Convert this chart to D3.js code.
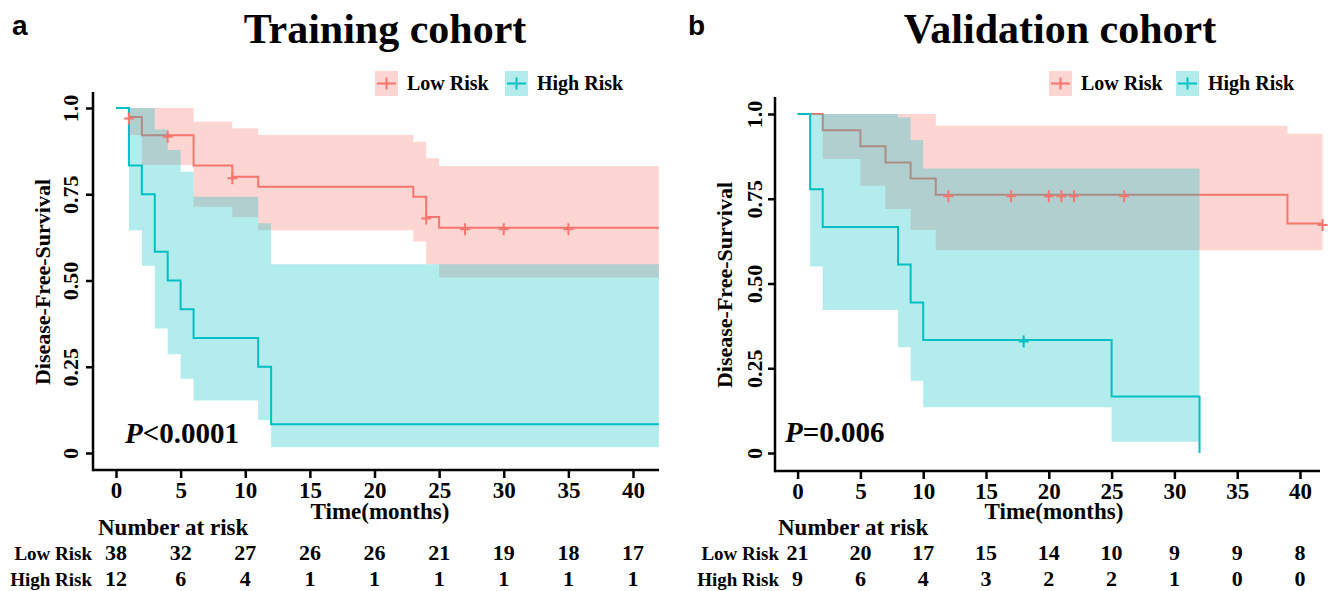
<!DOCTYPE html>
<html>
<head>
<meta charset="utf-8">
<script src="https://cdn.jsdelivr.net/npm/d3@7"></script>
<style>
  body { margin: 0; background: #fff; }
  text { font-family: "Liberation Serif", "Times New Roman", serif; font-weight: bold; fill: #000; }
</style>
</head>
<body>
<div id="chart"></div>
<script>
// ---- data ----
const xTicks = [0, 5, 10, 15, 20, 25, 30, 35, 40];
const yTicks = [0, 0.25, 0.5, 0.75, 1];
const yTickLabels = ["0", "0.25", "0.50", "0.75", "1.0"];
const groups = ["Low Risk", "High Risk"];

// training cohort
const trainLowTime  = [0, 1, 2, 6, 9, 11, 23, 24, 25];
const trainLowSurv  = [1, 0.974, 0.921, 0.833, 0.801, 0.772, 0.743, 0.684, 0.653];
const trainLowUpper = [1, 1, 1, 0.960, 0.941, 0.922, 0.902, 0.854, 0.832];
const trainLowLower = [1, 0.922, 0.835, 0.714, 0.683, 0.646, 0.613, 0.547, 0.509];
const trainLowCensor = [1, 4, 9, 24, 27, 30, 35];
const trainLowEnd = 42;

const trainHighTime  = [0, 1, 2, 3, 4, 5, 6, 11, 12];
const trainHighSurv  = [1, 0.833, 0.75, 0.583, 0.5, 0.417, 0.333, 0.25, 0.083];
const trainHighUpper = [1, 1, 1, 0.938, 0.878, 0.815, 0.743, 0.666, 0.547];
const trainHighLower = [1, 0.646, 0.543, 0.361, 0.286, 0.215, 0.152, 0.096, 0.017];
const trainHighCensor = [];
const trainHighEnd = 42;

const trainRiskLow  = [38, 32, 27, 26, 26, 21, 19, 18, 17];
const trainRiskHigh = [12, 6, 4, 1, 1, 1, 1, 1, 1];

// validation cohort
const validLowTime  = [0, 2, 5, 7, 9, 11, 39];
const validLowSurv  = [1, 0.952, 0.905, 0.857, 0.810, 0.762, 0.677];
const validLowUpper = [1, 1, 1, 1, 1, 0.965, 0.942];
const validLowLower = [1, 0.867, 0.788, 0.720, 0.658, 0.598, 0.598];
const validLowCensor = [12, 17, 20, 21, 22, 26, 41.8];
const validLowEnd = 41.8;

const validHighTime  = [0, 1, 2, 8, 9, 10, 25, 32];
const validHighSurv  = [1, 0.778, 0.667, 0.556, 0.444, 0.333, 0.167, 0];
const validHighUpper = [1, 1, 1, 0.99, 0.923, 0.839, 0.839, 0.839];
const validHighLower = [1, 0.550, 0.422, 0.312, 0.213, 0.135, 0.033, 0.033];
const validHighCensor = [18];
const validHighEnd = 32;

const validRiskLow  = [21, 20, 17, 15, 14, 10, 9, 9, 8];
const validRiskHigh = [9, 6, 4, 3, 2, 2, 1, 0, 0];

const colors = ["#F8766D", "#00BFC4"];

const width = 1328, height = 591;
const svg = d3.select("#chart").append("svg")
  .attr("width", width).attr("height", height);

function series(time, surv, upper, lower, censor, end) {
  const pts = time.map((t, i) => ({t: t, s: surv[i], hi: upper[i], lo: lower[i]}));
  const last = pts[pts.length - 1];
  if (end > last.t) pts.push({t: end, s: last.s, hi: last.hi, lo: last.lo});
  // survival value at each censor time
  const marks = censor.map(c => {
    let s = 1;
    time.forEach((t, i) => { if (t <= c) s = surv[i]; });
    return {t: c, s: s};
  });
  return {pts: pts, marks: marks};
}

function drawPanel(p) {
  const g = svg.append("g");
  const x = d3.scaleLinear().domain([0, 40]).range(p.xRange);
  const y = d3.scaleLinear().domain([0, 1]).range(p.yRange);

  // title + panel letter
  g.append("text").attr("x", p.titleX).attr("y", 43)
    .attr("text-anchor", "middle").style("font-size", "42px").text(p.title);
  g.append("text").attr("x", p.letterX).attr("y", 35)
    .style("font-family", "'Liberation Sans', Arial, sans-serif")
    .style("font-size", "28px").text(p.letter);

  const area = d3.area().curve(d3.curveStepAfter)
    .x(d => x(d.t)).y0(d => y(d.lo)).y1(d => y(d.hi));
  const line = d3.line().curve(d3.curveStepAfter)
    .x(d => x(d.t)).y(d => y(d.s));

  // low risk band + line, then high risk band + line
  p.series.forEach((sr, i) => {
    g.append("path").attr("d", area(sr.pts))
      .attr("fill", colors[i]).attr("fill-opacity", 0.3);
    g.append("path").attr("d", line(sr.pts))
      .attr("fill", "none").attr("stroke", colors[i]).attr("stroke-width", 2);
  });
  // censor marks
  p.series.forEach((sr, i) => {
    g.selectAll(null).data(sr.marks).join("path")
      .attr("d", d => {
        const cx = x(d.t), cy = y(d.s) + 1.5;
        return `M${cx - 5},${cy}H${cx + 5}M${cx},${cy - 6}V${cy + 6}`;
      })
      .attr("stroke", colors[i]).attr("stroke-width", 2);
  });

  // axes
  const xAxis = g.append("g").attr("transform", `translate(0,${p.axisY})`)
    .call(d3.axisBottom(x).tickValues(xTicks).tickSize(8).tickSizeOuter(0));
  xAxis.select(".domain").remove();
  xAxis.selectAll("line").attr("stroke-width", 2.5);
  xAxis.selectAll("text").attr("y", 28).attr("dy", 0)
    .style("font-size", "23px").style("font-family", "'Liberation Serif', serif");
  g.append("line").attr("x1", p.axisX).attr("x2", p.xEnd)
    .attr("y1", p.axisY).attr("y2", p.axisY)
    .attr("stroke", "#000").attr("stroke-width", 2.5);

  const yAxis = g.append("g").attr("transform", `translate(${p.axisX},0)`)
    .call(d3.axisLeft(y).tickValues(yTicks).tickSize(7).tickSizeOuter(0)
      .tickFormat((d, i) => yTickLabels[i]));
  yAxis.select(".domain").remove();
  yAxis.selectAll("line").attr("stroke-width", 2.5);
  yAxis.selectAll("text").attr("transform", "rotate(-90)")
    .attr("x", 0).attr("y", -p.yLabOff).attr("dy", 0)
    .attr("text-anchor", "middle")
    .style("font-size", "22px").style("font-family", "'Liberation Serif', serif");
  g.append("line").attr("x1", p.axisX).attr("x2", p.axisX)
    .attr("y1", p.yTop).attr("y2", p.axisY + 1.25)
    .attr("stroke", "#000").attr("stroke-width", 2.5);

  // axis titles
  g.append("text").attr("transform", `translate(${p.yTitleX},${p.yTitleY}) rotate(-90)`)
    .attr("text-anchor", "middle").style("font-size", "22px").text("Disease-Free-Survival");
  g.append("text").attr("x", p.xTitleX).attr("y", 519)
    .attr("text-anchor", "middle").style("font-size", "23px").text("Time(months)");

  // p-value
  const pv = g.append("text").attr("x", p.pX).attr("y", p.pY).style("font-size", "29px");
  pv.append("tspan").style("font-style", "italic").text("P");
  pv.append("tspan").text(p.pText);

  // legend
  groups.forEach((name, i) => {
    const kx = p.legendX[i], ky = 71, kw = 23, kh = 25;
    g.append("rect").attr("x", kx).attr("y", ky).attr("width", kw).attr("height", kh)
      .attr("fill", colors[i]).attr("fill-opacity", 0.3);
    g.append("path")
      .attr("d", `M${kx + 2},${ky + kh / 2}H${kx + kw - 2}M${kx + kw / 2},${ky + kh / 2 - 6}V${ky + kh / 2 + 6}`)
      .attr("stroke", colors[i]).attr("stroke-width", 2);
    g.append("text").attr("x", kx + kw + 9).attr("y", 90)
      .style("font-size", "20px").text(name);
  });

  // number at risk table
  g.append("text").attr("x", p.nrX).attr("y", 535)
    .style("font-size", "23px").text("Number at risk");
  [p.riskLow, p.riskHigh].forEach((row, r) => {
    const by = 560 + r * 26;
    g.append("text").attr("x", p.rowLabX).attr("y", by)
      .attr("text-anchor", "end").style("font-size", "19px").text(groups[r]);
    g.selectAll(null).data(row).join("text")
      .attr("x", (d, i) => x(xTicks[i])).attr("y", by)
      .attr("text-anchor", "middle").style("font-size", "22px").text(d => d);
  });
}

drawPanel({
  title: "Training cohort", titleX: 385, letter: "a", letterX: 12,
  xRange: [116, 633], yRange: [453, 108], axisX: 93, axisY: 470, xEnd: 659, yTop: 92,
  yLabOff: 15, yTitleX: 50, yTitleY: 282, xTitleX: 380,
  pX: 125, pY: 443, pText: "<0.0001",
  legendX: [375, 505], nrX: 98, rowLabX: 92,
  riskLow: trainRiskLow, riskHigh: trainRiskHigh,
  series: [
    series(trainLowTime, trainLowSurv, trainLowUpper, trainLowLower, trainLowCensor, trainLowEnd),
    series(trainHighTime, trainHighSurv, trainHighUpper, trainHighLower, trainHighCensor, trainHighEnd)
  ]
});

drawPanel({
  title: "Validation cohort", titleX: 1060, letter: "b", letterX: 688,
  xRange: [797.6, 1300], yRange: [453, 114], axisX: 775, axisY: 471, xEnd: 1320, yTop: 97,
  yLabOff: 13, yTitleX: 732, yTitleY: 285, xTitleX: 1054,
  pX: 785, pY: 442, pText: "=0.006",
  legendX: [1049, 1176], nrX: 778, rowLabX: 779,
  riskLow: validRiskLow, riskHigh: validRiskHigh,
  series: [
    series(validLowTime, validLowSurv, validLowUpper, validLowLower, validLowCensor, validLowEnd),
    series(validHighTime, validHighSurv, validHighUpper, validHighLower, validHighCensor, validHighEnd)
  ]
});
</script>
</body>
</html>
